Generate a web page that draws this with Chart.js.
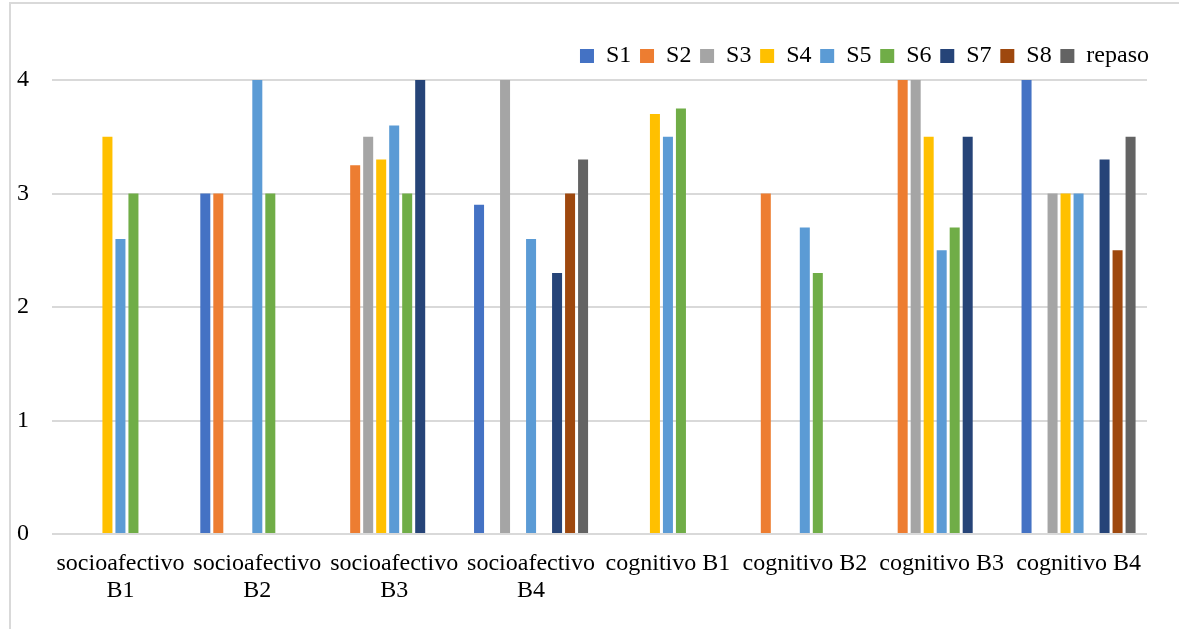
<!DOCTYPE html>
<html>
<head>
<meta charset="utf-8">
<script src="https://cdn.jsdelivr.net/npm/chart.js@4.4.0/dist/chart.umd.min.js"></script>
<style>
  html, body { margin: 0; padding: 0; background: #ffffff; }
  #wrap { position: relative; width: 1179px; height: 629px; }
  #frame { position: absolute; left: 9px; top: 2px; width: 1200px; height: 700px;
           border-left: 2px solid #d9d9d9; border-top: 2px solid #d9d9d9; box-sizing: border-box; }
  canvas { position: absolute; left: 0; top: 0; }
</style>
</head>
<body>
<div id="wrap">
  <div id="frame"></div>
  <canvas id="c" width="1179" height="629"></canvas>
</div>
<script>
const categories = [
  ['socioafectivo', 'B1'], ['socioafectivo', 'B2'], ['socioafectivo', 'B3'], ['socioafectivo', 'B4'],
  'cognitivo B1', 'cognitivo B2', 'cognitivo B3', 'cognitivo B4'
];
const seriesNames = ['S1', 'S2', 'S3', 'S4', 'S5', 'S6', 'S7', 'S8', 'repaso'];
const S1 = [null, 3, null, 2.9, null, null, null, 4];
const S2 = [null, 3, 3.25, null, null, 3, 4, null];
const S3 = [null, null, 3.5, 4, null, null, 4, 3];
const S4 = [3.5, null, 3.3, null, 3.7, null, 3.5, 3];
const S5 = [2.6, 4, 3.6, 2.6, 3.5, 2.7, 2.5, 3];
const S6 = [3, 3, 3, null, 3.75, 2.3, 2.7, null];
const S7 = [null, null, 4, 2.3, null, null, 3.5, 3.3];
const S8 = [null, null, null, 3, null, null, null, 2.5];
const repaso = [null, null, null, 3.3, null, null, null, 3.5];
const yTicks = [0, 1, 2, 3, 4];

const seriesValues = [S1, S2, S3, S4, S5, S6, S7, S8, repaso];
const colors = ['#4472C4', '#ED7D31', '#A5A5A5', '#FFC000', '#5B9BD5', '#70AD47', '#264478', '#9E480E', '#636363'];

const FONT = "'Liberation Serif', 'Times New Roman', serif";
const LEGEND_PAD = 8.7;
const LEGEND_EXTRA_H = 2;
const LEGEND_EXTRA_R = 11.2;

const layoutPatch = {
  id: 'layoutPatch',
  beforeLayout(chart) {
    const lg = chart.legend;
    if (lg && !lg._patched) {
      const orig = lg.fit.bind(lg);
      lg.fit = function () { orig(); this.height += LEGEND_EXTRA_H; };
      lg._patched = true;
    }
  },
  afterLayout(chart) {
    const lg = chart.legend;
    if (lg) {
      lg.right += LEGEND_EXTRA_R;
      lg.width += LEGEND_EXTRA_R;
      if (lg.lineWidths) lg.lineWidths = lg.lineWidths.map(w => w + 0.5);
    }
  }
};

new Chart(document.getElementById('c'), {
  type: 'bar',
  data: {
    labels: categories,
    datasets: seriesNames.map((n, i) => ({
      label: n,
      data: seriesValues[i],
      backgroundColor: colors[i],
      borderWidth: 0,
      categoryPercentage: 0.855,
      barPercentage: 0.77
    }))
  },
  options: {
    responsive: false,
    animation: false,
    devicePixelRatio: 1,
    layout: { padding: { left: 10, right: 32, top: 35.3, bottom: 0 } },
    plugins: {
      legend: {
        position: 'top',
        align: 'end',
        labels: {
          font: { family: FONT, size: 24 },
          color: '#000000',
          boxWidth: 14,
          boxHeight: 14,
          padding: LEGEND_PAD
        }
      },
      tooltip: { enabled: false }
    },
    scales: {
      x: {
        grid: { display: false, drawTicks: false },
        border: { display: false },
        ticks: {
          font: { family: FONT, size: 24, lineHeight: 1.1 },
          color: '#000000',
          padding: 16.8,
          maxRotation: 0,
          autoSkip: false
        },
        afterFit(s) { s.height = 95; }
      },
      y: {
        min: 0,
        max: 4,
        afterBuildTicks(s) { s.ticks = yTicks.map(v => ({ value: v })); },
        grid: { color: '#d9d9d9', lineWidth: 2, drawTicks: false },
        border: { display: false },
        ticks: {
          font: { family: FONT, size: 24 },
          color: '#000000',
          padding: 23
        },
        afterFit(s) { s.width = 42; }
      }
    }
  },
  plugins: [layoutPatch]
});
</script>
</body>
</html>
